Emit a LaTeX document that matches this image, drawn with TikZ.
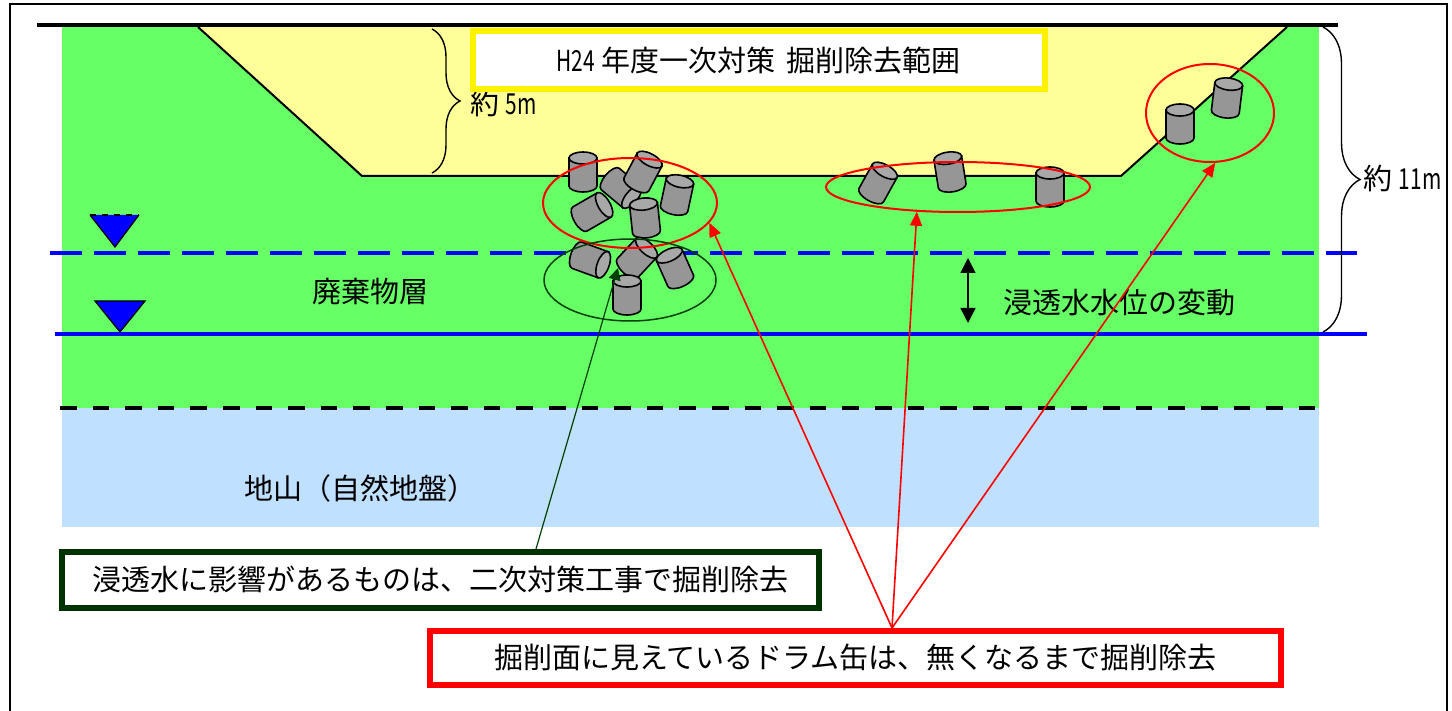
\documentclass[tikz,border=0pt]{standalone}
\usepackage{fontspec}
\setmainfont{Noto Sans CJK JP}
\usepackage{graphicx}
\usepackage{xcolor}
\usepackage{tikz}
\usetikzlibrary{arrows.meta,decorations.pathreplacing,shapes.geometric,positioning}

\definecolor{wasteGreen}{RGB}{102,255,102}
\definecolor{digYellow}{RGB}{255,255,153}
\definecolor{baseBlue}{RGB}{192,224,255}
\definecolor{drumGray}{RGB}{150,150,150}
\definecolor{drumLid}{RGB}{168,168,168}
\definecolor{boxGreen}{RGB}{0,51,0}
\definecolor{lineGreen}{RGB}{0,64,0}

% half-width latin
\newcommand{\narrowLatin}[1]{\scalebox{0.72}[1]{#1}}

% one drum: centre x, centre y, tilt
\newcommand{\drawDrum}[3]
{
	\begin{scope}[shift={(#1,#2)},rotate=#3]
		\filldraw[drum] (-14,-14) -- (-14,14) arc[start angle=180,end angle=0,x radius=14,y radius=6] -- (14,-14) -- cycle;
		\filldraw[drum,fill=drumLid] (0,-14) ellipse[x radius=14,y radius=6];
	\end{scope}
}

\begin{document}
\begin{tikzpicture}[x=0.5pt,y=-0.5pt,>=Triangle,
	every node/.style={font=\fontsize{14.5}{17}\selectfont,inner sep=0pt},
	drum/.style={fill=drumGray,draw=black,line width=0.8pt},
	redring/.style={ellipse,draw=red,line width=1pt},
	redarrow/.style={-{Triangle[length=7pt,width=6pt]},red,line width=0.8pt},
	greenarrow/.style={-{Triangle[length=6pt,width=6pt]},lineGreen,line width=0.6pt},
	brace/.style={decorate,decoration={brace,amplitude=#1},line width=0.7pt},
	textbox/.style={draw=#1,line width=3pt,fill=white},
]
\useasboundingbox (0,0) rectangle (1452,711);
\draw[line width=0.6pt] (10,711) -- (10,4) -- (1447,4) -- (1447,711);

% ground layers
\fill[wasteGreen] (62,27) rectangle (1319,408);
\fill[baseBlue] (62,408) rectangle (1319,527);
\filldraw[fill=digYellow,draw=black,line width=1pt] (198,27) -- (362,176) -- (1121,176) -- (1287,27);
\draw[line width=2pt] (37,25) -- (1338,25);
\draw[line width=2pt,dash pattern=on 8.3pt off 8pt] (60,408) -- (1320,408);

% water levels
\draw[blue,line width=2.2pt,dash pattern=on 16pt off 6pt] (50,253) -- (1357,253);
\draw[blue,line width=2.1pt] (55,334) -- (1367,334);
\fill[blue] (90,215) -- (115,247) -- (139,215) -- cycle;
\draw[line width=0.6pt] (90,215) -- (115,247) -- (139,215);
\draw[line width=0.6pt,dashed] (90,215) -- (139,215);
\filldraw[fill=blue,draw=black,line width=0.6pt] (95,301) -- (120,332) -- (145,301) -- cycle;

\coordinate (hwl) at (968,258);
\coordinate (lwl) at (968,323);
\draw[{Triangle[length=7.5pt,width=7.5pt]}-{Triangle[length=7.5pt,width=7.5pt]},line width=0.8pt] (hwl) -- (lwl);

% drums
\drawDrum{621}{188}{-130}
\drawDrum{643}{172}{-28}
\drawDrum{583}{172}{0}
\drawDrum{677}{195}{-12}
\drawDrum{592}{212}{-60}
\drawDrum{645}{218}{6}
\drawDrum{590}{260}{-110}
\drawDrum{637}{258}{-43}
\drawDrum{627}{295}{0}
\drawDrum{675}{268}{24}

\drawDrum{878}{183}{-29}
\drawDrum{950}{172}{9}
\drawDrum{1050}{187}{0}

\drawDrum{1180}{124}{0}
\drawDrum{1227}{98}{-7}

\node[redring,minimum width=87pt,minimum height=45pt] (e1) at (630,203) {};
\node[ellipse,draw=lineGreen,line width=0.75pt,minimum width=86pt,minimum height=41pt] (e0) at (630,280) {};
\node[redring,minimum width=132pt,minimum height=25pt] (e2) at (958,187) {};
\node[redring,minimum width=64pt,minimum height=49pt] (e3) at (1210,113) {};

% depth braces
\draw[brace=14pt] (432,29) -- (432,173);
\node[anchor=west] (d5) at (470,103) {約 \narrowLatin{5m}};
\draw[brace=18.5pt] (1323,27) -- (1323,332);
\node[anchor=west] (d11) at (1363,178) {約 \narrowLatin{11m}};

% labels
\node[textbox=yellow,minimum width=286pt,minimum height=29pt] (range) at (758.5,60.5) {\narrowLatin{H24} 年度一次対策\hspace{0.4em}掘削除去範囲};
\node (waste) at (370,292) {廃棄物層};
\node (level) at (1119,303) {浸透水水位の変動};
\node (ground) at (360,488) {地山（自然地盤）};

\node[textbox=boxGreen,minimum width=378.5pt,minimum height=28pt] (gbox) at (440.5,580) {浸透水に影響があるものは、二次対策工事で掘削除去};
\node[textbox=red,minimum width=425.5pt,minimum height=27pt] (rbox) at (855.5,658) {掘削面に見えているドラム缶は、無くなるまで掘削除去};

% leaders
\coordinate (gtip) at (618,268);
\draw[greenarrow] ([xshift=47.75pt]gbox.north) -- (gtip);
\coordinate (apex) at ([xshift=18.25pt]rbox.north);
\draw[redarrow] (apex) -- (e1.-14);
\draw[redarrow] (apex) -- (e2.-149);
\draw[redarrow] (apex) -- (e3.-84);
\end{tikzpicture}
\end{document}
